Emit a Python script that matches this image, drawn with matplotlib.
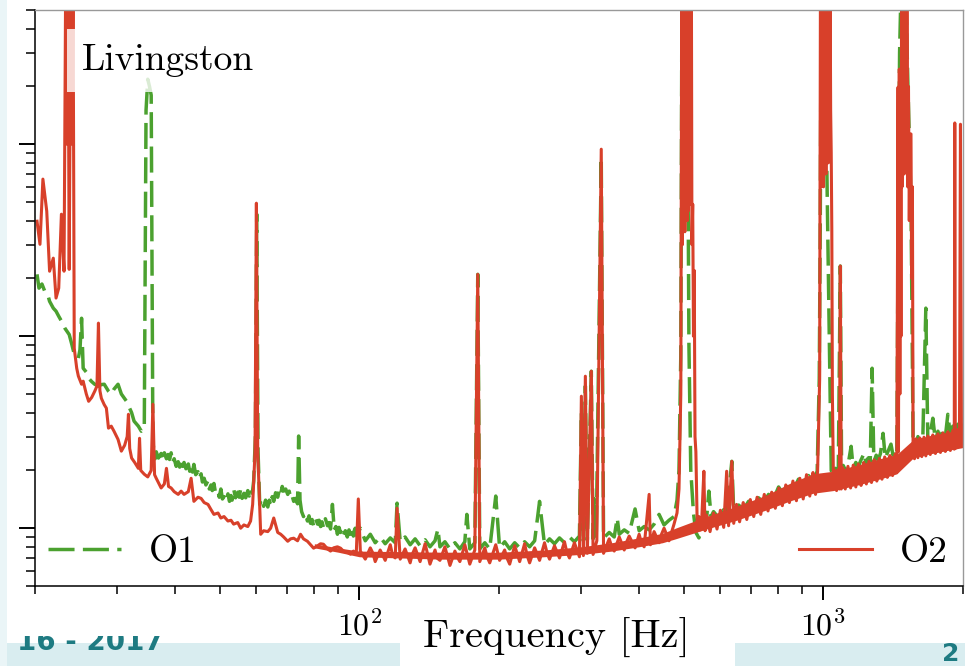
import numpy as np
import matplotlib
matplotlib.use("Agg")
import matplotlib.pyplot as plt
from matplotlib.patches import Rectangle
from matplotlib.ticker import NullFormatter
from matplotlib.transforms import Bbox, TransformedBbox

# strain ASD, (frequency [Hz], ASD in units of 1e-23 /sqrt(Hz))
o1_points = [
    (20.2, 21.0), (20.4, 17.8), (20.7, 18.7), (21.0, 17.1), (21.3, 16.5), (21.5, 15.2),
    (21.9, 14.0), (22.2, 13.5), (22.5, 12.7), (22.8, 12.0), (23.2, 11.0), (23.7, 10.2),
    (24.0, 9.1), (24.3, 8.06), (24.8, 7.68), (25.0, 8.5), (25.2, 12.4), (25.4, 6.81),
    (25.8, 6.5), (26.1, 6.04), (26.5, 5.8), (26.9, 5.62), (27.4, 5.49), (27.8, 5.6),
    (28.2, 5.62), (28.8, 5.17), (29.2, 4.99), (29.6, 5.3), (30.2, 5.62), (30.7, 5.0),
    (31.5, 4.58), (32.3, 4.0), (32.7, 3.61), (33.4, 3.4), (33.9, 3.2), (34.4, 3.32),
    (34.7, 150), (35.0, 218), (35.3, 200), (35.6, 180), (35.9, 2.8),
    (36.1, 2.52), (36.3, 2.30), (36.5, 2.50), (36.9, 2.32), (37.4, 2.45), (37.7, 2.28),
    (38.0, 2.47), (38.4, 2.30), (38.7, 2.42), (39.0, 2.28), (39.3, 2.47), (39.6, 2.20),
    (39.9, 2.30), (40.3, 2.10), (40.7, 2.22), (41.0, 2.08), (41.3, 2.28), (41.6, 2.10),
    (41.9, 2.20), (42.3, 2.04), (42.8, 2.16), (43.1, 1.98), (43.4, 2.12), (43.7, 1.96),
    (44.0, 2.15), (44.4, 1.90), (44.9, 1.97), (45.2, 1.82), (45.6, 1.92), (45.9, 1.74),
    (46.3, 1.82), (46.7, 1.68), (47.2, 1.77), (47.5, 1.60), (47.9, 1.68), (48.2, 1.57),
    (48.6, 1.71), (49.0, 1.52), (49.6, 1.56), (49.9, 1.45), (50.3, 1.60), (50.7, 1.42),
    (51.1, 1.46), (51.6, 1.38), (52.1, 1.51), (52.5, 1.38), (52.9, 1.48), (53.2, 1.40),
    (53.6, 1.60), (54.1, 1.44), (54.7, 1.54), (55.1, 1.45), (55.5, 1.60), (55.9, 1.43),
    (56.4, 1.52), (56.9, 1.44), (57.5, 1.57), (57.9, 1.47), (58.3, 1.60), (58.8, 1.52),
    (59.2, 1.76), (59.7, 3.0), (60.1, 43.2), (60.5, 2.5),
    (61.0, 1.33), (61.6, 1.42), (62.2, 1.30), (62.8, 1.40), (63.5, 1.29), (64.0, 1.40),
    (64.4, 1.32), (64.9, 1.46), (65.4, 1.38), (66.0, 1.53), (66.7, 1.45), (67.2, 1.58),
    (67.7, 1.50), (68.2, 1.65), (68.7, 1.56), (69.4, 1.60), (70.1, 1.50), (70.6, 1.56),
    (71.1, 1.44), (71.6, 1.48), (72.2, 1.38), (72.9, 1.43), (73.6, 1.34), (74.0, 3.02),
    (74.5, 1.40), (75.1, 1.22), (75.8, 1.15), (76.5, 1.20), (77.3, 1.09), (77.9, 1.16),
    (78.5, 1.06), (79.1, 1.11), (79.7, 1.03), (80.5, 1.12), (81.3, 1.05), (81.9, 1.10),
    (82.5, 1.02), (83.1, 1.08), (83.7, 1.01), (84.5, 1.12), (85.4, 1.03), (86.0, 1.07),
    (86.7, 0.99), (87.5, 1.33), (88.3, 0.98), (89.0, 1.02), (89.7, 0.93), (90.4, 1.01),
    (91.1, 0.95), (91.8, 0.99), (92.4, 0.92), (93.3, 0.97), (94.2, 0.90), (95.0, 0.98),
    (95.7, 0.93), (96.4, 0.99), (97.1, 0.91), (97.5, 0.97), (98.0, 1.00), (98.8, 0.91),
    (99.5, 0.95),
    (100.5, 1.00), (103.0, 0.86), (105.6, 0.93), (108.2, 0.84), (110.9, 0.90), (113.7, 0.83),
    (116.6, 0.89), (119.5, 0.84), (120.6, 1.35), (122.5, 0.85), (125.5, 0.90), (128.7, 0.82),
    (131.9, 0.88), (135.2, 0.81), (138.6, 0.87), (142.0, 0.80), (145.6, 0.86), (147.7, 0.99),
    (149.2, 0.80), (152.9, 0.85), (156.8, 0.78), (160.7, 0.84), (164.7, 0.78), (168.8, 0.85),
    (170.5, 1.18), (173.0, 0.78), (177.4, 0.84), (180.0, 21.0), (181.8, 0.78), (186.4, 0.84),
    (191.0, 0.78), (196.8, 1.47), (200.6, 0.79), (205.7, 0.85), (210.9, 0.78), (216.2, 0.84),
    (221.6, 0.79), (227.1, 0.85), (232.8, 0.80), (238.7, 0.86), (244.6, 1.38), (250.7, 0.82),
    (257.0, 0.88), (263.4, 0.83), (270.0, 0.89), (276.8, 0.84), (283.7, 0.90), (290.8, 0.85),
    (298.1, 0.91), (301.0, 4.0), (304.0, 0.86), (307.0, 5.5), (310.0, 0.87), (316.2, 6.57),
    (319.0, 0.88), (320.9, 1.42), (324.0, 0.88), (332.2, 85), (336.0, 0.89), (345.6, 0.95),
    (354.3, 0.90), (359.6, 1.13), (363.2, 0.93), (372.3, 0.98), (381.6, 0.94), (392.9, 1.26),
    (400.9, 0.97), (411.0, 1.02), (421.3, 0.98), (431.8, 1.05), (442.6, 1.18), (453.7, 1.04),
    (465.0, 1.10), (476.7, 1.15), (483.8, 1.4), (488.6, 2.0), (493.0, 8.0), (496.0, 900),
    (503.0, 900), (508.0, 900), (513.3, 9.0), (518.0, 2.0), (525.0, 1.2), (531.3, 0.95),
    (539.3, 0.89), (547.3, 1.0), (552.8, 1.15), (560.0, 1.10), (566.6, 1.56), (573.0, 1.15),
    (580, 1.22), (595, 1.13), (610, 1.25), (619, 1.18), (635, 2.23), (641, 1.22),
    (657, 1.32), (673, 1.25), (690, 1.38), (708, 1.30), (725, 1.44), (744, 1.36),
    (762, 1.50), (781, 1.42), (801, 1.64), (821, 1.50), (842, 1.72), (863, 1.58),
    (884, 1.80), (906, 1.66), (929, 1.88), (952, 1.75), (970, 1.98), (980, 6.0),
    (985, 40), (990, 900), (1000, 900), (1010, 300), (1020, 50), (1030, 10),
    (1040, 2.0), (1048, 1.9), (1061, 2.05), (1077, 1.93), (1088, 23.2), (1095, 1.95),
    (1104, 2.12), (1118, 1.98), (1131, 2.15), (1148, 2.67), (1160, 2.04), (1175, 2.2),
    (1189, 2.08), (1205, 2.26), (1225, 2.46), (1237, 2.14), (1249, 2.32), (1262, 2.18),
    (1274, 6.81), (1285, 2.22), (1300, 2.40), (1312, 2.26), (1328, 2.45), (1345, 3.12),
    (1360, 2.32), (1379, 2.52), (1399, 2.74), (1413, 2.40), (1430, 2.60), (1440, 2.5),
    (1449, 28), (1460, 300), (1475, 900), (1500, 900), (1522, 200), (1545, 50),
    (1561, 2.9), (1584, 2.62), (1599, 3.0), (1620, 2.7), (1639, 3.04), (1663, 14.0),
    (1680, 2.78), (1700, 3.12), (1722, 3.74), (1744, 2.85), (1766, 3.2), (1788, 2.9),
    (1810, 3.28), (1832, 2.98), (1855, 3.92), (1878, 3.05), (1901, 3.4), (1925, 3.1),
    (1949, 3.48), (1978, 3.2), (2000, 3.5),
]

o2_points = [
    (20.2, 39.7), (20.5, 30.1), (20.8, 65.8), (21.2, 44.8), (21.5, 21.8), (21.9, 25.5),
    (22.2, 15.8), (22.5, 17.8), (22.8, 43.2), (23.1, 21.8), (23.3, 900), (23.45, 100),
    (23.55, 900), (23.7, 22.3), (23.9, 900), (24.05, 100), (24.15, 900), (24.3, 8.66),
    (24.6, 6.81), (24.8, 6.2), (25.2, 5.62), (25.4, 5.83), (25.8, 5.0), (26.1, 4.58),
    (26.5, 4.8), (26.9, 5.17), (27.2, 5.5), (27.4, 11.7), (27.6, 5.2), (27.8, 4.75),
    (28.2, 4.4), (28.5, 4.22), (28.8, 3.32), (29.2, 3.4), (29.6, 3.2), (30.2, 2.9),
    (30.7, 2.52), (31.2, 2.7), (31.6, 3.0), (31.8, 3.92), (32.0, 2.6), (32.3, 2.32),
    (32.8, 2.2), (33.4, 2.05), (33.6, 2.94), (33.8, 2.0), (34.4, 1.91), (35.0, 1.85),
    (35.6, 2.0), (35.9, 4.42), (36.2, 1.9), (36.5, 1.82), (37.4, 1.62), (38.0, 1.7),
    (38.4, 2.05), (38.8, 1.65), (39.3, 1.62), (39.9, 1.55), (40.7, 1.50), (41.3, 1.56),
    (41.9, 1.50), (42.8, 1.55), (43.4, 1.82), (44.0, 1.38), (44.9, 1.45), (45.6, 1.43),
    (46.3, 1.36), (47.2, 1.33), (47.9, 1.25), (48.6, 1.18), (49.6, 1.20), (50.3, 1.13),
    (51.1, 1.15), (52.1, 1.09), (52.9, 1.10), (53.6, 1.05), (54.7, 1.07), (55.5, 1.00),
    (56.4, 1.04), (57.5, 1.02), (58.3, 1.09), (58.9, 1.33), (59.6, 2.5), (60.0, 49.3),
    (60.4, 2.5), (61.3, 0.93), (62.2, 0.97), (63.5, 0.96), (64.4, 1.0), (65.4, 1.13),
    (66.7, 0.95), (67.7, 0.93), (68.7, 0.90), (70.1, 0.855), (71.1, 0.88), (72.2, 0.887),
    (73.6, 0.86), (74.7, 0.93), (75.8, 0.88), (77.3, 0.855), (78.5, 0.82), (79.7, 0.787),
    (81.3, 0.81), (82.5, 0.83), (83.7, 0.825), (85.4, 0.78), (86.7, 0.76), (88.0, 0.79),
    (89.7, 0.80), (91.1, 0.787), (92.4, 0.76), (94.2, 0.75), (95.7, 0.732), (97.1, 0.76),
    (98.5, 0.74), (99.5, 1.42), (100.5, 0.76),
    (103.0, 0.69), (105.6, 0.79), (107.0, 0.74), (108.2, 0.67), (110.9, 0.77), (113.7, 0.68),
    (116.6, 0.82), (118.0, 0.72), (119.5, 0.70), (120.6, 1.27), (122.5, 0.69), (125.5, 0.78),
    (128.7, 0.66), (130.0, 0.73), (131.9, 0.79), (135.2, 0.67), (138.6, 0.83), (142.0, 0.65),
    (145.6, 0.77), (147.0, 0.70), (149.2, 0.68), (152.9, 0.80), (156.8, 0.64), (160.7, 0.76),
    (162.5, 0.71), (164.7, 0.67), (168.8, 0.82), (173.0, 0.65), (177.4, 0.77), (180.0, 21.0),
    (181.8, 0.67), (186.4, 0.79), (188.5, 0.71), (191.0, 0.66), (196.8, 0.82), (200.6, 0.68),
    (205.7, 0.77), (208.0, 0.70), (210.9, 0.65), (216.2, 0.81), (221.6, 0.67), (227.1, 0.83),
    (230.0, 0.72), (232.8, 0.66), (238.7, 0.79), (244.6, 0.68), (250.7, 0.84), (254.0, 0.74),
    (257.0, 0.69), (263.4, 0.81), (270.0, 0.70), (276.8, 0.85), (280.0, 0.75), (283.7, 0.70),
    (290.8, 0.84), (298.1, 0.71), (301.0, 4.87), (304.0, 0.72), (307.0, 6.19), (310.0, 0.74),
    (316.2, 6.57), (319.0, 0.73), (325.0, 0.86), (332.2, 94.2), (336.0, 0.74), (345.6, 0.88),
    (350.0, 0.80), (354.3, 0.76), (363.2, 0.90), (372.3, 0.77), (377.0, 0.85), (381.6, 0.91),
    (392.9, 0.79), (400.9, 0.93), (405.0, 0.85), (411.0, 0.80), (421.3, 1.50), (424.0, 0.82),
    (431.8, 0.96), (442.6, 0.84), (448.0, 0.93), (453.7, 1.0), (465.0, 0.86), (476.7, 1.05),
    (483.8, 1.2), (488.6, 1.6), (493.0, 5.0), (495.5, 900), (497.0, 30), (498.5, 900),
    (500.0, 40), (501.5, 900), (503.0, 35), (504.5, 900), (506.0, 50), (507.5, 900),
    (509.0, 40), (510.5, 900), (512.0, 45), (513.5, 900), (515.0, 56.9), (516.5, 900),
    (518.0, 48.7), (519.5, 900), (521.0, 30), (523.0, 48.7), (525.0, 10), (527.0, 22),
    (529.0, 3.0), (531.3, 2.5), (535.0, 1.0), (539.3, 1.15), (543.0, 0.98), (547.3, 1.15),
    (552.8, 1.98), (556.0, 0.97),
    (560, 1.17), (570, 0.96), (576, 1.10), (580, 1.20), (590, 0.99), (600, 1.24),
    (610, 1.01), (619, 1.98), (625, 1.03), (635, 2.23), (641, 1.06), (650, 1.33),
    (660, 1.08), (666, 1.22), (672, 1.36), (684, 1.11), (696, 1.41), (708, 1.15),
    (714, 1.30), (720, 1.45), (733, 1.18), (746, 1.50), (760, 1.23), (767, 1.40),
    (774, 1.54), (788, 1.27), (802, 1.62), (816, 1.31), (823, 1.50), (830, 1.68),
    (845, 1.36), (860, 1.76), (875, 1.39), (882, 1.62), (890, 1.82), (905, 1.42),
    (920, 1.90), (935, 1.47), (942, 1.75), (950, 1.95), (962, 1.50), (972, 1.98),
    (982, 6.0), (986, 900), (989, 60), (992, 900), (995, 80), (998, 900),
    (1001, 60), (1004, 900), (1007, 90), (1010, 900), (1013, 70), (1016, 900),
    (1019, 100), (1022, 900), (1025, 80), (1028, 900), (1031, 120), (1034, 900),
    (1037, 150), (1040, 90), (1043, 36), (1046, 5), (1052, 1.6), (1060, 2.0),
    (1068, 1.57), (1077, 2.02), (1083, 1.6), (1088, 23.2), (1093, 1.6), (1102, 2.06),
    (1115, 1.60), (1130, 2.10), (1137, 1.85), (1145, 1.62), (1160, 2.13), (1175, 1.64),
    (1190, 2.16), (1206, 1.67), (1214, 1.95), (1222, 2.20), (1238, 1.70), (1254, 2.23),
    (1270, 1.73), (1287, 2.27), (1295, 2.0), (1304, 1.76), (1321, 2.31), (1338, 1.80),
    (1356, 2.35), (1374, 1.84), (1383, 2.15), (1392, 2.39), (1410, 1.88), (1428, 2.43),
    (1440, 1.95), (1449, 198), (1452, 2.5), (1458, 246), (1462, 5), (1466, 150),
    (1470, 10), (1475, 900), (1478, 60), (1482, 900), (1486, 80), (1490, 900),
    (1494, 70), (1498, 900), (1502, 100), (1506, 900), (1510, 80), (1514, 900),
    (1520, 60), (1526, 200), (1532, 40), (1538, 113), (1545, 113), (1550, 20),
    (1556, 60), (1561, 2.8), (1572, 2.30), (1584, 2.92), (1599, 2.33), (1615, 2.95),
    (1622, 2.6), (1630, 2.36), (1648, 2.98), (1663, 2.38), (1680, 3.02), (1700, 2.42),
    (1722, 3.06), (1733, 2.75), (1744, 2.45), (1766, 3.10), (1788, 2.48), (1810, 3.14),
    (1832, 2.51), (1843, 2.85), (1855, 3.18), (1878, 2.54), (1901, 3.22), (1915, 2.58),
    (1920, 129), (1925, 2.6), (1949, 3.26), (1965, 2.7), (1975, 127), (1985, 3.0),
    (2000, 3.3),
]

# dense O2 noise band (lower / upper envelope, same units)
o2_band_freq = [80, 90, 100, 150, 200, 250, 300, 350, 400, 450, 480, 560, 650, 750, 850, 950,
                1050, 1200, 1350, 1440, 1565, 1700, 1850, 2000]
o2_band_lo = [0.79, 0.75, 0.71, 0.69, 0.69, 0.71, 0.73, 0.76, 0.80, 0.84, 0.88, 0.99, 1.10, 1.24,
              1.39, 1.52, 1.57, 1.69, 1.83, 1.92, 2.33, 2.44, 2.54, 2.63]
o2_band_hi = [0.83, 0.79, 0.76, 0.75, 0.75, 0.77, 0.80, 0.84, 0.89, 0.94, 1.0, 1.15, 1.30, 1.48,
              1.72, 1.92, 1.98, 2.15, 2.33, 2.42, 2.90, 3.04, 3.16, 3.27]

asd_unit = 1e-23
green = '#4ba12f'
red = '#d8402a'

plt.rcParams['font.family'] = 'serif'
plt.rcParams['font.serif'] = ['cmr10']
plt.rcParams['mathtext.fontset'] = 'cm'
plt.rcParams['axes.formatter.use_mathtext'] = True

o1_freq, o1_asd = zip(*o1_points)
o2_freq, o2_asd = zip(*o2_points)

fig = plt.figure(figsize=(9.65, 6.66), dpi=100)
ax = fig.add_axes([35 / 965, 80 / 666, 928 / 965, 576 / 666])

l1, = ax.plot(o1_freq, np.array(o1_asd) * asd_unit, color=green, lw=2.5,
              ls=(0, (7.5, 2.4)), zorder=2)
ax.fill_between(o2_band_freq, np.array(o2_band_lo) * asd_unit, np.array(o2_band_hi) * asd_unit,
                color=red, lw=0, zorder=2.1)
l2, = ax.plot(o2_freq, np.array(o2_asd) * asd_unit, color=red, lw=2.2, zorder=2.2)

ax.set_xscale('log')
ax.set_yscale('log')
ax.set_xlim(20, 2000)
ax.set_ylim(5e-24, 5e-21)

ax.xaxis.set_minor_formatter(NullFormatter())
ax.tick_params(which='both', top=False, right=False, direction='out', labelleft=False)
ax.tick_params(axis='x', which='major', length=10, width=1.4, labelsize=23, pad=7)
ax.tick_params(axis='x', which='minor', length=6, width=1.1)
ax.tick_params(axis='y', which='major', length=11.5, width=1.4)
ax.tick_params(axis='y', which='minor', length=6.5, width=1.1)
for s in ['top', 'right']:
    ax.spines[s].set_color('#999999')
    ax.spines[s].set_linewidth(1.0)
for s in ['left', 'bottom']:
    ax.spines[s].set_linewidth(1.1)

ax.set_xlabel('Frequency [Hz]', fontsize=29)
ax.xaxis.set_label_coords(0.5614, -0.056)

ax.text(0.0506, 0.896, 'Livingston', transform=ax.transAxes, fontsize=27, va='baseline',
        bbox=dict(boxstyle='square,pad=0.4', fc='white', ec='none', alpha=0.8), zorder=5)

leg1 = ax.legend([l1], ['O1'], loc='center left', bbox_to_anchor=(0.014, 0.059), frameon=False,
                 fontsize=27, handlelength=1.95, handletextpad=0.75, borderpad=0, borderaxespad=0)
ax.add_artist(leg1)
ax.legend([l2], ['O2'], loc='center right', bbox_to_anchor=(0.984, 0.059), frameon=False,
          fontsize=27, handlelength=1.95, handletextpad=0.75, borderpad=0, borderaxespad=0)

# slide footer peeking out below the plot
fig.add_artist(Rectangle((0, 0), 400 / 965, 23 / 666, transform=fig.transFigure,
                         color='#d9edf0', lw=0, zorder=0))
fig.add_artist(Rectangle((735 / 965, 0), 230 / 965, 23 / 666, transform=fig.transFigure,
                         color='#d9edf0', lw=0, zorder=0))
fig.add_artist(Rectangle((0, 0), 7 / 965, 1, transform=fig.transFigure,
                         color='#eaf5f7', lw=0, zorder=0))
t = fig.text(17 / 965, 16 / 666, '16 - 2017', color='#1e7b82', fontsize=20,
             fontweight='bold', family='DejaVu Sans')
t.set_clip_box(TransformedBbox(Bbox([[0, 0], [0.4, 30 / 666]]), fig.transFigure))
t.set_clip_on(True)
t2 = fig.text(942 / 965, 5 / 666, '2', color='#1e7b82', fontsize=18,
              fontweight='bold', family='DejaVu Sans')
t2.set_clip_box(TransformedBbox(Bbox([[0.9, 0], [1, 23 / 666]]), fig.transFigure))
t2.set_clip_on(True)

fig.savefig('out.png', dpi=100)
